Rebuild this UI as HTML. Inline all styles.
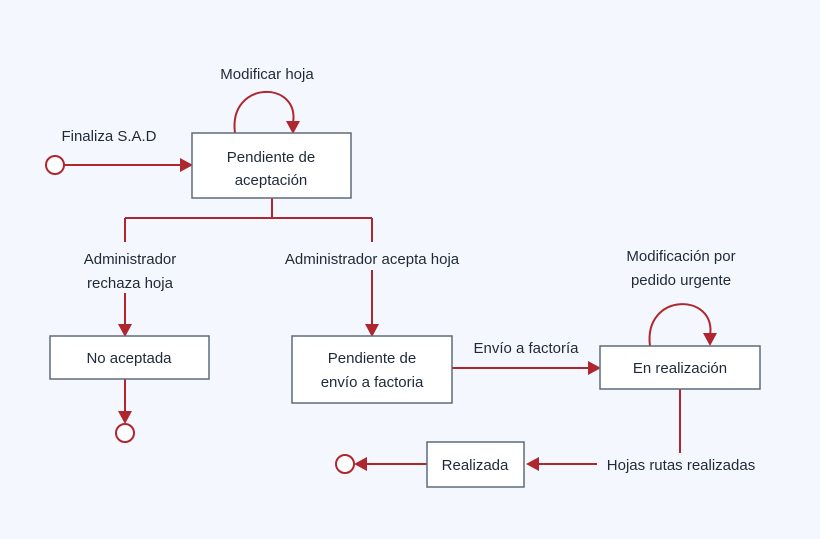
<!DOCTYPE html>
<html><head><meta charset="utf-8"><style>
body{margin:0;background:#f4f8fe;}
svg{display:block;font-family:"Liberation Sans",Arial,sans-serif;font-size:15px;fill:#1f2937;}
</style></head><body>
<svg width="820" height="539" viewBox="0 0 820 539">
<rect width="820" height="539" fill="#f4f8fe"/>
<g stroke="#b0262e" stroke-width="2" fill="none">
<circle cx="55" cy="165" r="9" fill="#fff"/>
<line x1="64" y1="165" x2="182" y2="165"/>
<path d="M235 133 C228 80 300 80 293 123"/>
<path d="M272 198 V218 M125 218 H372 M125 218 V242 M372 218 V242 M125 293 V326 M372 270 V326"/>
<line x1="125" y1="379" x2="125" y2="414"/>
<circle cx="125" cy="433" r="9" fill="#fff"/>
<line x1="452" y1="368" x2="590" y2="368"/>
<path d="M650 346 C643 292 717 292 710 336"/>
<line x1="680" y1="389" x2="680" y2="453"/>
<line x1="597" y1="464" x2="537" y2="464"/>
<line x1="427" y1="464" x2="365" y2="464"/>
<circle cx="345" cy="464" r="9" fill="#fff"/>
</g>
<g fill="#b0262e">
<polygon points="180,158 193,165 180,172"/>
<polygon points="286,121 300,121 293,134"/>
<polygon points="118,324 132,324 125,337"/>
<polygon points="365,324 379,324 372,337"/>
<polygon points="118,411 132,411 125,424"/>
<polygon points="588,361 601,368 588,375"/>
<polygon points="703,333 717,333 710,346"/>
<polygon points="539,457 526,464 539,471"/>
<polygon points="367,457 354,464 367,471"/>
</g>
<g fill="#fff" stroke="#5f6b7a" stroke-width="1.5">
<rect x="192" y="133" width="159" height="65"/>
<rect x="50" y="336" width="159" height="43"/>
<rect x="292" y="336" width="160" height="67"/>
<rect x="600" y="346" width="160" height="43"/>
<rect x="427" y="442" width="97" height="45"/>
</g>
<g text-anchor="middle">
<text x="267" y="79">Modificar hoja</text>
<text x="109" y="141">Finaliza S.A.D</text>
<text x="271" y="162">Pendiente de</text>
<text x="271" y="185">aceptación</text>
<text x="130" y="264">Administrador</text>
<text x="130" y="288">rechaza hoja</text>
<text x="372" y="264">Administrador acepta hoja</text>
<text x="129" y="363">No aceptada</text>
<text x="372" y="363">Pendiente de</text>
<text x="372" y="387">envío a factoria</text>
<text x="526" y="353">Envío a factoría</text>
<text x="681" y="261">Modificación por</text>
<text x="681" y="285">pedido urgente</text>
<text x="680" y="373">En realización</text>
<text x="681" y="470">Hojas rutas realizadas</text>
<text x="475" y="470">Realizada</text>
</g>
</svg>
</body></html>
